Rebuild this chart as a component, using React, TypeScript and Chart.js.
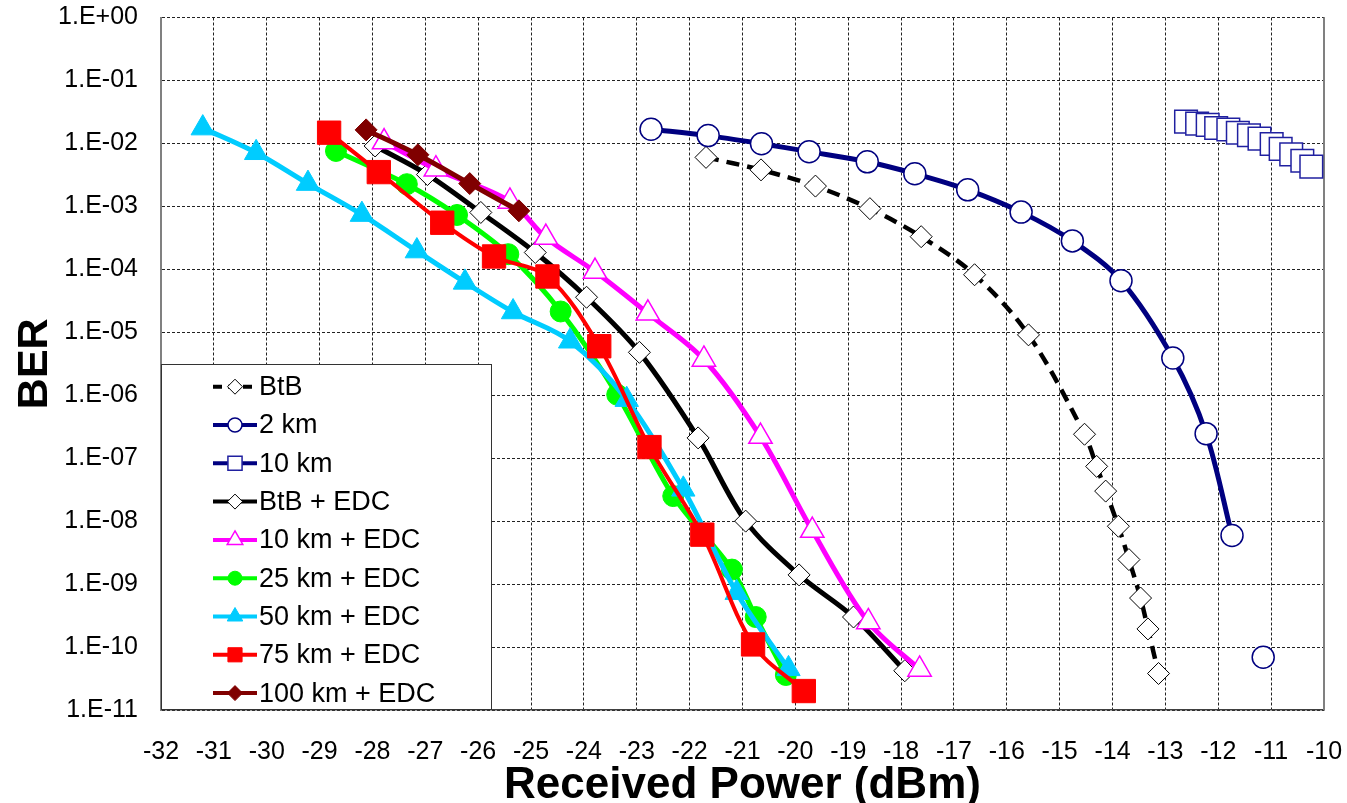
import React, { useEffect, useRef } from 'react';
import { Chart, registerables } from 'chart.js';
import { drawPoint } from 'chart.js/helpers';

Chart.register(...registerables);

// ---------- data (Received Power in dBm, BER) ----------
const btbPower = [-21.69, -20.65, -19.62, -18.59, -17.62, -16.61, -15.59, -14.53, -14.3, -14.13, -13.89, -13.69, -13.47, -13.33, -13.13];
const btbBer = [6.0e-3, 3.8e-3, 2.1e-3, 9.2e-4, 3.3e-4, 8.2e-5, 9.1e-6, 2.4e-7, 7.4e-8, 3.0e-8, 8.3e-9, 2.45e-9, 6.0e-10, 1.94e-10, 3.8e-11];

const km2Power = [-22.73, -21.65, -20.64, -19.74, -18.64, -17.74, -16.74, -15.73, -14.76, -13.84, -12.86, -12.23, -11.74];
const km2Ber = [1.68e-2, 1.33e-2, 9.9e-3, 7.4e-3, 5.1e-3, 3.3e-3, 1.83e-3, 8.1e-4, 2.83e-4, 6.6e-5, 3.9e-6, 2.45e-7, 5.9e-9];
const km2ExtraPower = [-11.15];
const km2ExtraBer = [6.9e-11];

const km10Power = [-12.61, -12.4, -12.2, -12.04, -11.81, -11.63, -11.42, -11.22, -10.99, -10.82, -10.62, -10.41, -10.24];
const km10Ber = [2.22e-2, 2.06e-2, 1.97e-2, 1.76e-2, 1.66e-2, 1.48e-2, 1.35e-2, 1.19e-2, 9.8e-3, 8.2e-3, 6.7e-3, 5.3e-3, 4.27e-3];

const btbEdcPower = [-27.95, -26.96, -25.95, -24.92, -23.95, -22.95, -21.84, -20.94, -19.93, -18.9, -17.93];
const btbEdcBer = [9.1e-3, 3.2e-3, 8.0e-4, 1.85e-4, 3.6e-5, 4.8e-6, 2.1e-7, 1.0e-8, 1.4e-9, 3.0e-10, 4.2e-11];

const km10EdcPower = [-27.78, -26.8, -25.4, -24.72, -23.79, -22.79, -21.73, -20.66, -19.68, -18.62, -17.65];
const km10EdcBer = [1.05e-2, 3.9e-3, 1.2e-3, 3.2e-4, 9.2e-5, 2.0e-5, 3.7e-6, 2.2e-7, 7.1e-9, 2.5e-10, 4.4e-11];

const km25EdcPower = [-28.69, -27.35, -26.4, -25.43, -24.44, -23.37, -22.31, -21.2, -20.75, -20.18];
const km25EdcBer = [7.6e-3, 2.25e-3, 7.3e-4, 1.74e-4, 2.14e-5, 1.02e-6, 2.5e-8, 1.7e-9, 3.0e-10, 3.6e-11];

const km50EdcPower = [-31.21, -30.2, -29.22, -28.2, -27.16, -26.25, -25.34, -24.26, -23.19, -22.12, -21.11, -20.13];
const km50EdcBer = [1.75e-2, 7.1e-3, 2.3e-3, 7.4e-4, 1.95e-4, 6.2e-5, 2.1e-5, 7.2e-6, 8.5e-7, 3.2e-8, 7.3e-10, 4.5e-11];

const km75EdcPower = [-28.82, -27.88, -26.68, -25.7, -24.69, -23.71, -22.76, -21.76, -20.8, -19.84];
const km75EdcBer = [1.48e-2, 3.5e-3, 5.5e-4, 1.6e-4, 7.7e-5, 6.0e-6, 1.5e-7, 6.1e-9, 1.1e-10, 2.0e-11];

const km100EdcPower = [-28.12, -27.14, -26.16, -25.23];
const km100EdcBer = [1.64e-2, 6.6e-3, 2.3e-3, 8.5e-4];

const seriesLabels = ['BtB', '2 km', '10 km', 'BtB + EDC', '10 km + EDC', '25 km + EDC', '50 km + EDC', '75 km + EDC', '100 km + EDC'];
const yTickValues = [1, 1e-1, 1e-2, 1e-3, 1e-4, 1e-5, 1e-6, 1e-7, 1e-8, 1e-9, 1e-10, 1e-11];
const xMin = -32;
const xMax = -10;
const xTitle = 'Received Power (dBm)';
const yTitle = 'BER';

const FONT = "'Liberation Sans', Arial, Helvetica, sans-serif";

function pts(xs: number[], ys: number[]) {
  return xs.map((x, i) => ({ x, y: ys[i] }));
}

function fmtBer(v: number) {
  const e = Math.round(Math.log10(v));
  const s = e >= 0 ? '+' : '-';
  const a = Math.abs(e);
  return '1.E' + s + (a < 10 ? '0' + a : String(a));
}

type Style = {
  color: string;
  width: number;
  dash?: number[];
  point: string;
  radius: number;
  fill: string;
  pBorder: string;
  pBorderW: number;
  legendRadius: number;
};

const NAVY = '#000080';
const styles: Style[] = [
  { color: '#000000', width: 4.5, dash: [13, 8], point: 'rectRot', radius: 11, fill: '#ffffff', pBorder: '#000000', pBorderW: 1, legendRadius: 7.5 },
  { color: NAVY, width: 5, point: 'circle', radius: 11, fill: '#ffffff', pBorder: NAVY, pBorderW: 1.5, legendRadius: 7 },
  { color: NAVY, width: 5, point: 'rect', radius: 16, fill: '#ffffff', pBorder: '#2020a0', pBorderW: 1.5, legendRadius: 10 },
  { color: '#000000', width: 5, point: 'rectRot', radius: 11, fill: '#ffffff', pBorder: '#000000', pBorderW: 1, legendRadius: 7.5 },
  { color: '#ff00ff', width: 5, point: 'triangle', radius: 13.5, fill: '#ffffff', pBorder: '#ff00ff', pBorderW: 1.5, legendRadius: 9 },
  { color: '#00ff00', width: 5, point: 'circle', radius: 10.5, fill: '#00ff00', pBorder: '#00ff00', pBorderW: 1, legendRadius: 7 },
  { color: '#00ccff', width: 5, point: 'triangle', radius: 13.5, fill: '#00ccff', pBorder: '#00ccff', pBorderW: 1, legendRadius: 9 },
  { color: '#ff0000', width: 4, point: 'rect', radius: 16.5, fill: '#ff0000', pBorder: '#ff0000', pBorderW: 1, legendRadius: 10 },
  { color: '#800000', width: 5, point: 'rectRot', radius: 11, fill: '#800000', pBorder: '#800000', pBorderW: 1, legendRadius: 7.5 },
];

const seriesData = [
  pts(btbPower, btbBer),
  pts(km2Power, km2Ber),
  pts(km10Power, km10Ber),
  pts(btbEdcPower, btbEdcBer),
  pts(km10EdcPower, km10EdcBer),
  pts(km25EdcPower, km25EdcBer),
  pts(km50EdcPower, km50EdcBer),
  pts(km75EdcPower, km75EdcBer),
  pts(km100EdcPower, km100EdcBer),
];

const legendPlugin = {
  id: 'boxLegend',
  afterDatasetsDraw(chart: any) {
    const ctx = chart.ctx as CanvasRenderingContext2D;
    const ca = chart.chartArea;
    const left = ca.left;
    const top = 364;
    const right = 492;
    const bottom = ca.bottom;
    ctx.save();
    ctx.fillStyle = '#ffffff';
    ctx.fillRect(left, top, right - left, bottom - top);
    ctx.strokeStyle = '#333333';
    ctx.lineWidth = 1;
    ctx.setLineDash([]);
    ctx.strokeRect(left + 0.5, top + 0.5, right - left - 1, bottom - top - 1);
    ctx.font = `27px ${FONT}`;
    ctx.textBaseline = 'middle';
    ctx.textAlign = 'left';
    seriesLabels.forEach((label, i) => {
      const st = styles[i];
      const cy = top + 22.7 + i * 38.3;
      ctx.strokeStyle = st.color;
      ctx.lineWidth = 4;
      ctx.setLineDash(st.dash ? [9, 6] : []);
      ctx.beginPath();
      ctx.moveTo(213, cy);
      ctx.lineTo(257, cy);
      ctx.stroke();
      ctx.setLineDash([]);
      ctx.fillStyle = st.fill;
      ctx.strokeStyle = st.pBorder;
      ctx.lineWidth = st.pBorderW;
      drawPoint(ctx, { pointStyle: st.point as any, rotation: 0, radius: st.legendRadius, borderWidth: st.pBorderW }, 235, cy);
      ctx.fillStyle = '#000000';
      ctx.fillText(label, 259, cy + 1);
    });
    ctx.restore();
  },
};

const framePlugin = {
  id: 'frame',
  beforeDatasetsDraw(chart: any) {
    const ctx = chart.ctx as CanvasRenderingContext2D;
    const ca = chart.chartArea;
    ctx.save();
    ctx.strokeStyle = '#808080';
    ctx.lineWidth = 2;
    ctx.beginPath();
    ctx.moveTo(ca.right, ca.top);
    ctx.lineTo(ca.right, ca.bottom);
    ctx.stroke();
    ctx.restore();
  },
};

function zeroPad(s: any) {
  s.paddingTop = 0;
  s.paddingBottom = 0;
  s.paddingLeft = 0;
  s.paddingRight = 0;
}

export default function App() {
  const ref = useRef<HTMLCanvasElement>(null);
  useEffect(() => {
    if (!ref.current) return;
    const n = seriesData.length;
    const datasets: any[] = seriesData.map((data, i) => {
      const st = styles[i];
      return {
        label: seriesLabels[i],
        data,
        order: n - i + 1,
        borderColor: st.color,
        borderWidth: st.width,
        borderDash: st.dash || [],
        tension: 0.33,
        pointStyle: st.point,
        pointRadius: st.radius,
        pointBackgroundColor: st.fill,
        pointBorderColor: st.pBorder,
        pointBorderWidth: st.pBorderW,
        fill: false,
      };
    });
    const st2 = styles[1];
    datasets.push({
      label: '2 km (extra)',
      data: pts(km2ExtraPower, km2ExtraBer),
      order: n,
      showLine: false,
      borderColor: st2.color,
      pointStyle: st2.point,
      pointRadius: st2.radius,
      pointBackgroundColor: st2.fill,
      pointBorderColor: st2.pBorder,
      pointBorderWidth: st2.pBorderW,
    });

    const chart = new Chart(ref.current, {
      type: 'line',
      data: { datasets },
      plugins: [framePlugin, legendPlugin],
      options: {
        responsive: false,
        animation: false,
        events: [],
        layout: { padding: { left: 0, right: 23, top: 17.5, bottom: 0 } },
        plugins: { legend: { display: false }, tooltip: { enabled: false }, title: { display: false } },
        scales: {
          x: {
            type: 'linear',
            position: 'bottom',
            min: xMin,
            max: xMax,
            afterFit: (s: any) => { s.height = 93; zeroPad(s); },
            ticks: {
              stepSize: 1,
              autoSkip: false,
              maxRotation: 0,
              padding: 27,
              color: '#000',
              font: { family: FONT, size: 25 },
            },
            grid: { color: '#222', lineWidth: 1, drawTicks: false },
            border: { display: true, color: '#404040', width: 1.5, dash: [3, 2] },
            title: {
              display: true,
              text: xTitle,
              color: '#000',
              font: { family: FONT, size: 44, weight: 'bold', lineHeight: 0.8 },
              padding: { top: 0, bottom: 0 },
            },
          },
          y: {
            type: 'logarithmic',
            position: 'left',
            min: 1e-11,
            max: 1,
            afterFit: (s: any) => { s.width = 161; zeroPad(s); },
            afterBuildTicks: (s: any) => { s.ticks = yTickValues.map((v) => ({ value: v })); },
            ticks: {
              autoSkip: false,
              padding: 23,
              color: '#000',
              font: { family: FONT, size: 25 },
              callback: (v: any) => fmtBer(Number(v)),
            },
            grid: { color: '#222', lineWidth: 1, drawTicks: false },
            border: { display: true, color: '#808080', width: 2, dash: [3, 2] },
            title: {
              display: true,
              text: yTitle,
              color: '#000',
              font: { family: FONT, size: 43, weight: 'bold', lineHeight: 1.2 },
              padding: { top: 9, bottom: 0 },
            },
          },
        },
      } as any,
    });
    return () => chart.destroy();
  }, []);
  return (
    <div style={{ position: 'fixed', left: 0, top: 0, width: 1347, height: 803, background: '#ffffff' }}>
      <canvas ref={ref} width={1347} height={803} style={{ width: 1347, height: 803, display: 'block' }} />
    </div>
  );
}
